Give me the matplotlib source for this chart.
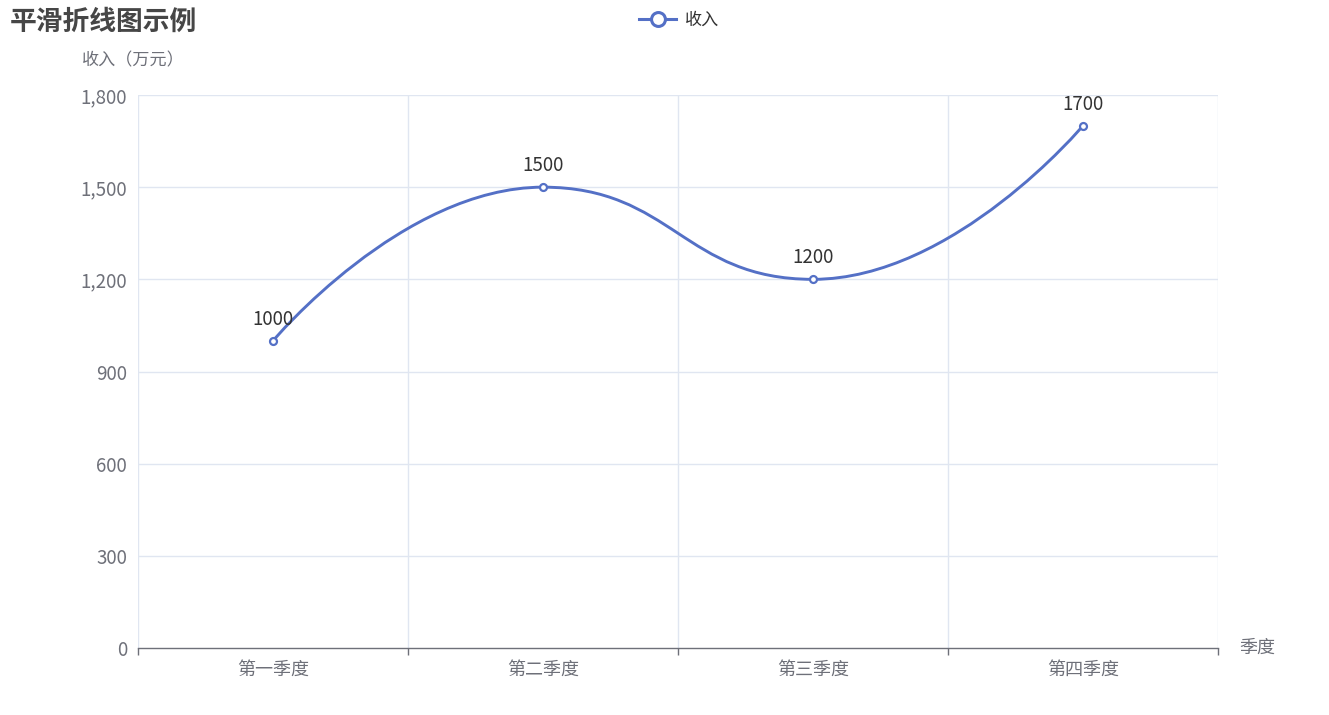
import matplotlib
matplotlib.use("Agg")
import matplotlib.pyplot as plt
from matplotlib.path import Path
from matplotlib.patches import PathPatch
from matplotlib.lines import Line2D
import numpy as np

plt.rcParams['font.family'] = ['Noto Sans CJK SC', 'DejaVu Sans']

# 数据
quarters = ["第一季度", "第二季度", "第三季度", "第四季度"]
income = [1000, 1500, 1200, 1700]
y_ticks = [0, 300, 600, 900, 1200, 1500, 1800]

line_color = "#5470c6"
label_color = "#6e7079"
grid_color = "#e0e6f1"

W, H = 1329, 715
fig = plt.figure(figsize=(W / 100, H / 100), dpi=100)
ax = fig.add_axes([138 / W, (H - 648) / H, (1218 - 138) / W, (648 - 95) / H])

n = len(quarters)
ax.set_xlim(-0.5, n - 0.5)
ax.set_ylim(0, 1800)

# 网格线
ax.set_yticks(y_ticks)
ax.set_yticklabels([f"{v:,}" for v in y_ticks])
for v in y_ticks[1:]:
    ax.axhline(v, color=grid_color, lw=1, zorder=0)
for b in np.arange(-0.5, n, 1.0):
    ax.axvline(b, color=grid_color, lw=1, zorder=0)

for s in ["top", "right", "left"]:
    ax.spines[s].set_visible(False)
ax.spines["bottom"].set_color(label_color)
ax.spines["bottom"].set_linewidth(1)

ax.set_xticks(range(n))
ax.set_xticklabels(quarters)
ax.set_xticks(np.arange(-0.5, n, 1.0), minor=True)
ax.tick_params(axis="x", which="major", length=0, pad=9, labelsize=13, labelcolor=label_color)
ax.tick_params(axis="x", which="minor", length=5, width=1, color=label_color)
ax.tick_params(axis="y", length=0, pad=8, labelsize=13.5, labelcolor=label_color)

# ECharts 风格的平滑曲线（在像素坐标下计算控制点）
fig.canvas.draw()
pts = ax.transData.transform(np.column_stack([np.arange(n), income]))
smooth = 0.5
verts = [tuple(pts[0])]
codes = [Path.MOVETO]
cp0 = pts[0].copy()
for i in range(1, n):
    x, y = pts[i]
    px, py = pts[i - 1]
    if i == n - 1:
        cp1 = np.array([x, y])
        nxt_cp0 = None
    else:
        nx_, ny_ = pts[i + 1]
        vx, vy = nx_ - px, ny_ - py
        lp = np.hypot(x - px, y - py)
        ln = np.hypot(nx_ - x, ny_ - y)
        r = ln / (ln + lp)
        ncx = x + vx * smooth * r
        ncy = y + vy * smooth * r
        ncx = min(max(ncx, min(nx_, x)), max(nx_, x))
        ncy = min(max(ncy, min(ny_, y)), max(ny_, y))
        vx, vy = ncx - x, ncy - y
        c1x = x - vx * lp / ln
        c1y = y - vy * lp / ln
        c1x = min(max(c1x, min(px, x)), max(px, x))
        c1y = min(max(c1y, min(py, y)), max(py, y))
        vx, vy = x - c1x, y - c1y
        ncx = x + vx * ln / lp
        ncy = y + vy * ln / lp
        cp1 = np.array([c1x, c1y])
        nxt_cp0 = np.array([ncx, ncy])
    verts += [tuple(cp0), tuple(cp1), (x, y)]
    codes += [Path.CURVE4] * 3
    cp0 = nxt_cp0

data_verts = ax.transData.inverted().transform(np.array(verts))
ax.add_patch(PathPatch(Path(data_verts, codes), fill=False, edgecolor=line_color,
                       lw=2.1, zorder=3, clip_on=False))
ax.plot(range(n), income, ls="none", marker="o", ms=5, mfc="white", mec=line_color,
        mew=1.6, zorder=4, clip_on=False)

for i, v in enumerate(income):
    ax.annotate(str(v), (i, v), xytext=(0, 8), textcoords="offset points",
                ha="center", va="bottom", fontsize=13.5, color="#333333", zorder=5)

# 标题、图例、轴名称
fig.text(10 / W, 1 - 22 / H, "平滑折线图示例", fontsize=19.3, fontweight="bold",
         color="#464646", ha="left", va="center")
handle = Line2D([], [], color=line_color, lw=2.2, marker="o", ms=10, mfc="white",
                mec=line_color, mew=2.2)
fig.legend([handle], ["收入"], loc="center", bbox_to_anchor=(679 / W, 1 - 20 / H),
           frameon=False, fontsize=12.3, handlelength=2.2, handletextpad=0.5,
           labelcolor="#333333")
fig.text(133 / W, 1 - 60 / H, "收入（万元）", fontsize=12.3, color=label_color,
         ha="center", va="center")
fig.text(1239 / W, 1 - 648 / H, "季度", fontsize=13, color=label_color,
         ha="left", va="center")

fig.savefig("out.png", dpi=100)
